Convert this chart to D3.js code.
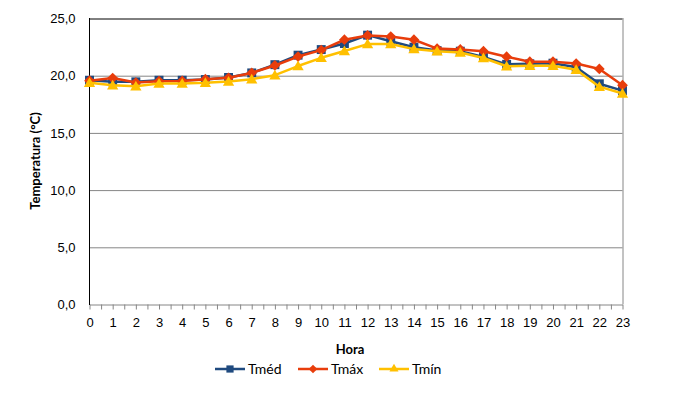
<!DOCTYPE html>
<html>
<head>
<meta charset="utf-8">
<script src="https://cdn.jsdelivr.net/npm/d3@7"></script>
<style>
  body { margin: 0; background: #fff; }
  svg { font-family: Lato, "Open Sans", sans-serif; }
</style>
</head>
<body>
<svg id="chart" width="682" height="401"></svg>
<script>
// hourly temperatures
var hours = [0,1,2,3,4,5,6,7,8,9,10,11,12,13,14,15,16,17,18,19,20,21,22,23];
var tmed = [19.56,19.42,19.42,19.56,19.56,19.62,19.8,20.2,20.92,21.75,22.24,22.77,23.5,22.97,22.45,22.15,22.1,21.6,20.95,21.0,21.05,20.7,19.25,18.65];
var tmax = [19.52,19.75,19.36,19.48,19.5,19.65,19.77,20.2,20.85,21.63,22.19,23.1,23.47,23.38,23.1,22.33,22.25,22.1,21.62,21.18,21.18,21.02,20.55,19.13];
var tmin = [19.33,19.13,19.04,19.27,19.27,19.33,19.45,19.65,20.0,20.8,21.52,22.12,22.72,22.72,22.28,22.1,21.98,21.5,20.78,20.83,20.83,20.47,19.0,18.4];
var yTicks = [0,5,10,15,20,25];

var series = [
  { name: 'Tméd', values: tmed, color: '#1F4A7F', shape: d3.symbolSquare, size: 80, rot: 0 },
  { name: 'Tmáx', values: tmax, color: '#E83D0C', shape: d3.symbolSquare, size: 58, rot: 45 },
  { name: 'Tmín', values: tmin, color: '#FFC000', shape: d3.symbolTriangle, size: 55, rot: 0 }
];

var svg = d3.select('#chart');
var pLeft = 89.5, pRight = 622.5, pTop = 18, pBottom = 304;

var x = d3.scaleLinear().domain([0, 23]).range([pLeft, pRight]);
var y = d3.scaleLinear().domain([0, 25]).range([pBottom, pTop]);

var loc = d3.formatLocale({ decimal: ',', thousands: '.', grouping: [3] });
var fmt = loc.format('.1f');

// gridlines + y labels
var yAxis = svg.append('g')
  .attr('transform', `translate(${pLeft},0.5)`)
  .call(d3.axisLeft(y).tickValues(yTicks).tickSize(-(pRight - pLeft)).tickFormat(fmt));
yAxis.select('.domain').remove();
yAxis.selectAll('line').attr('stroke', '#868686').attr('stroke-width', 1);
yAxis.selectAll('.tick').filter(d => d === 25).select('line').attr('stroke', '#000');
yAxis.selectAll('.tick').filter(d => d === 0).select('line').remove();
yAxis.selectAll('text').attr('x', -14).attr('font-size', 13).attr('fill', '#000');

// right border
svg.append('line')
  .attr('x1', pRight + 0.5).attr('x2', pRight + 0.5)
  .attr('y1', pTop).attr('y2', pBottom)
  .attr('stroke', '#868686');

// x axis
var xAxis = svg.append('g')
  .attr('transform', `translate(0,${pBottom + 0.5})`)
  .call(d3.axisBottom(x).tickValues(d3.range(0, 23.01, 0.5)).tickSize(5).tickSizeOuter(0)
    .tickFormat(d => Number.isInteger(d) ? d : ''));
xAxis.select('.domain').attr('stroke', '#868686');
xAxis.selectAll('line').attr('stroke', '#868686');
xAxis.selectAll('text').attr('y', 13).attr('font-size', 13).attr('fill', '#000');

// left axis line
svg.append('line')
  .attr('x1', pLeft).attr('x2', pLeft)
  .attr('y1', pTop).attr('y2', pBottom + 1)
  .attr('stroke', '#000');

// series
var line = d3.line().x((d, i) => x(hours[i])).y(d => y(d));
series.forEach(function (s) {
  svg.append('path')
    .datum(s.values)
    .attr('fill', 'none')
    .attr('stroke', s.color)
    .attr('stroke-width', 2.5)
    .attr('stroke-linejoin', 'round')
    .attr('d', line);
  svg.append('g').selectAll('path')
    .data(s.values)
    .join('path')
    .attr('transform', (d, i) => `translate(${x(hours[i])},${y(d) + (s.shape === d3.symbolTriangle ? 1 : 0)}) rotate(${s.rot})`)
    .attr('d', d3.symbol().type(s.shape).size(s.size))
    .attr('fill', s.color);
});

// titles
svg.append('text')
  .attr('transform', `translate(40,${(pTop + pBottom) / 2}) rotate(-90)`)
  .attr('text-anchor', 'middle')
  .attr('font-size', 13).attr('font-weight', 'bold')
  .text('Temperatura (°C)');

svg.append('text')
  .attr('x', 350).attr('y', 354)
  .attr('text-anchor', 'middle')
  .attr('font-size', 13).attr('font-weight', 'bold')
  .text('Hora');

// legend
var legendX = [215, 298, 379];
var lg = svg.append('g').attr('transform', 'translate(0,369)');
series.forEach(function (s, i) {
  var g = lg.append('g').attr('transform', `translate(${legendX[i]},0)`);
  g.append('line').attr('x1', 0).attr('x2', 30).attr('stroke', s.color).attr('stroke-width', 2.5);
  g.append('path').attr('transform', `translate(15,0) rotate(${s.rot})`)
    .attr('d', d3.symbol().type(s.shape).size(s.size * 0.65)).attr('fill', s.color);
  g.append('text').attr('x', 33).attr('y', 5).attr('font-size', 14).text(s.name);
});
</script>
</body>
</html>
